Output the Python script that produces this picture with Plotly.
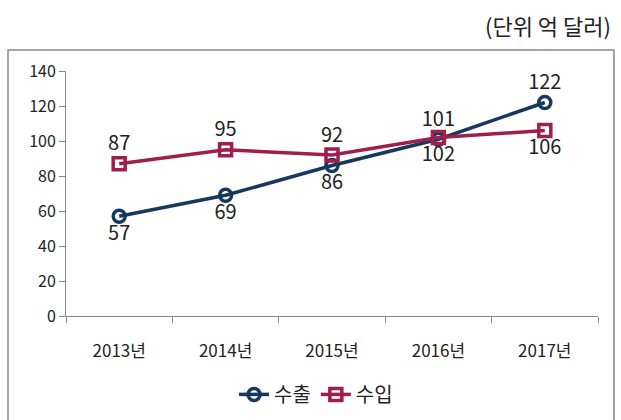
import plotly.graph_objects as go

years = ["2013년", "2014년", "2015년", "2016년", "2017년"]
exports = [57, 69, 86, 101, 122]
imports = [87, 95, 92, 102, 106]
export_pos = ["bottom center", "bottom center", "bottom center", "top center", "top center"]
import_pos = ["top center", "top center", "top center", "bottom center", "bottom center"]

xs = list(range(len(years)))
FONT = "Noto Sans CJK KR"
navy = "#17375E"
maroon = "#A01E4C"

fig = go.Figure()
fig.add_trace(go.Scatter(
    x=xs, y=exports, name="수출", mode="lines+markers+text",
    text=[str(v) for v in exports], textposition=export_pos,
    textfont=dict(size=20, color="#222222", family=FONT),
    line=dict(color=navy, width=3.5),
    marker=dict(symbol="circle-open", size=12, color=navy, line=dict(width=3.5, color=navy)),
))
fig.add_trace(go.Scatter(
    x=xs, y=imports, name="수입", mode="lines+markers+text",
    text=[str(v) for v in imports], textposition=import_pos,
    textfont=dict(size=20, color="#222222", family=FONT),
    line=dict(color=maroon, width=3.5),
    marker=dict(symbol="square-open", size=12, color=maroon, line=dict(width=3.5, color=maroon)),
))

fig.update_layout(
    width=621, height=420,
    margin=dict(l=66, r=23, t=71, b=104, autoexpand=False),
    paper_bgcolor="white", plot_bgcolor="white",
    font=dict(family=FONT, color="#222222"),
    showlegend=True,
    legend=dict(orientation="h", x=0.47, xanchor="center", y=-0.32, yanchor="middle",
                font=dict(size=20, family=FONT), itemwidth=30, tracegroupgap=0),
    xaxis=dict(
        range=[-0.5, 4.5], tickvals=xs, ticktext=years, ticks="", automargin=False,
        showgrid=False, zeroline=False, showline=True, linecolor="#888888", linewidth=1,
        tickfont=dict(size=17, family=FONT, color="#222222"), ticklabelstandoff=20,
        minor=dict(tick0=-0.5, dtick=1, ticks="outside", ticklen=6, tickcolor="#888888", showgrid=False),
    ),
    yaxis=dict(
        range=[0, 140], dtick=20, ticks="outside", ticklen=6, tickcolor="#888888", automargin=False,
        showgrid=False, zeroline=False, showline=True, linecolor="#888888", linewidth=1,
        tickfont=dict(size=16, family=FONT, color="#222222"),
    ),
    shapes=[dict(type="rect", xref="paper", yref="paper",
                 x0=-0.109, x1=1.030, y0=-0.6, y1=1.086,
                 line=dict(color="#888888", width=1.5), fillcolor="rgba(0,0,0,0)", layer="below")],
    annotations=[dict(text="(단위 억 달러)", xref="paper", yref="paper",
                      x=1.028, xanchor="right", y=1.188, yanchor="middle", showarrow=False,
                      font=dict(size=22, family=FONT, color="#222222"))],
)

fig.write_html("out.html", config={"displayModeBar": False},
               post_script="document.body.style.margin='0';")
